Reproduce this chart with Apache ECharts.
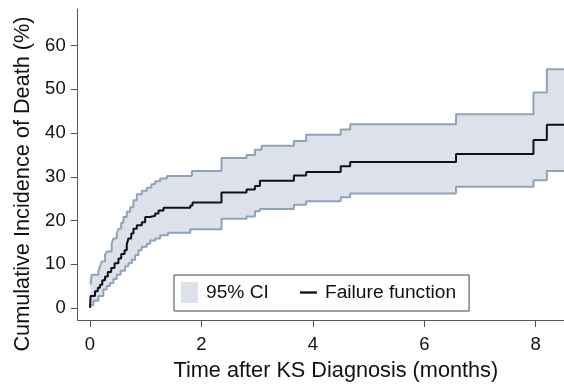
<!DOCTYPE html>
<html>
<head>
<meta charset="utf-8">
<style>
  html, body { margin: 0; padding: 0; background: #fff; }
  #chart { width: 564px; height: 387px; }
</style>
<script src="https://cdn.jsdelivr.net/npm/echarts@6/dist/echarts.min.js"></script>
</head>
<body>
<div id="chart"></div>
<script>
// Cumulative incidence (failure function) after KS diagnosis, with 95% CI.
// Each entry is [months, percent]; the value holds from that time until the next entry.
const failure = [
  [0, 0], [0.01, 2.7], [0.09, 3.8], [0.14, 4.6], [0.18, 5.3], [0.22, 6.3],
  [0.27, 7.2], [0.32, 8.2], [0.38, 9.1], [0.44, 10.2], [0.51, 11.3], [0.56, 12.3],
  [0.62, 13.2], [0.66, 14.5], [0.69, 15.9], [0.74, 17.0], [0.78, 18.1], [0.84, 18.9],
  [0.93, 19.6], [0.99, 20.8], [1.08, 21.1], [1.17, 21.6], [1.23, 22.3], [1.32, 22.9],
  [1.80, 23.4], [1.84, 24.1], [2.36, 26.4], [2.81, 27.1], [2.96, 27.9], [3.05, 29.1],
  [3.66, 30.3], [3.88, 31.1], [4.50, 32.4], [4.67, 33.4], [6.57, 35.2], [7.96, 38.4],
  [8.20, 41.9], [8.51, 41.9]
];

const ciUpper = [
  [0.01, 5.3], [0.03, 7.6], [0.15, 8.3], [0.18, 9.5], [0.21, 10.6], [0.27, 12.1],
  [0.30, 12.9], [0.39, 14.7], [0.42, 15.9], [0.48, 16.9], [0.51, 18.1], [0.56, 19.5],
  [0.60, 20.8], [0.66, 22.0], [0.72, 23.0], [0.78, 24.6], [0.84, 26.0], [0.93, 26.8],
  [1.02, 27.5], [1.10, 28.3], [1.17, 29.0], [1.26, 29.6], [1.38, 30.2], [1.83, 31.3],
  [2.36, 34.3], [2.81, 35.0], [2.96, 36.2], [3.08, 37.1], [3.66, 38.2], [3.88, 39.6],
  [4.50, 40.8], [4.67, 42.0], [6.57, 44.3], [7.96, 49.3], [8.20, 54.6], [8.51, 54.6]
];

const ciLower = [
  [0.01, 0.6], [0.06, 1.6], [0.15, 2.7], [0.24, 4.2], [0.30, 5.0], [0.36, 5.7],
  [0.42, 6.6], [0.48, 7.6], [0.55, 8.5], [0.63, 9.5], [0.69, 10.2], [0.75, 11.0],
  [0.81, 12.1], [0.87, 13.2], [0.93, 14.0], [1.02, 14.7], [1.08, 15.4], [1.17, 15.9],
  [1.26, 16.6], [1.40, 17.2], [1.80, 18.0], [2.36, 20.4], [2.81, 20.9], [2.96, 22.1],
  [3.05, 22.6], [3.66, 23.6], [3.88, 24.4], [4.50, 25.3], [4.67, 26.2], [6.57, 27.7],
  [7.96, 29.2], [8.20, 31.3], [8.51, 31.3]
];

const xTicks = [0, 2, 4, 6, 8];
const yTicks = [0, 10, 20, 30, 40, 50, 60];

const bandColor = '#dde2ea';
const ciLineColor = '#8fa3b8';
const axisColor = '#555';
const textColor = '#111';
const font = '"Liberation Sans", Arial, sans-serif';

// Expand a step function into the corner points of its staircase.
function stairs(points) {
  const out = [];
  for (let i = 0; i < points.length; i++) {
    out.push(points[i]);
    if (i < points.length - 1) out.push([points[i + 1][0], points[i][1]]);
  }
  return out;
}

const chart = echarts.init(document.getElementById('chart'), null, { renderer: 'canvas' });

chart.setOption({
  animation: false,
  backgroundColor: '#fff',
  grid: { left: 77.7, right: 0, top: 9, bottom: 63, containLabel: false },
  xAxis: {
    type: 'value',
    min: -0.221,
    max: 8.508,
    splitLine: { show: false },
    axisLine: { show: true, onZero: false, lineStyle: { color: axisColor, width: 1 } },
    axisTick: { show: true, customValues: xTicks, length: 7, lineStyle: { color: axisColor } },
    axisLabel: { customValues: xTicks, margin: 15, fontSize: 18.5, color: textColor, fontFamily: font },
    name: 'Time after KS Diagnosis (months)',
    nameLocation: 'middle',
    nameGap: 40,
    nameTextStyle: { fontSize: 21.7, color: textColor, fontFamily: font, padding: [0, 0, 0, 30] }
  },
  yAxis: {
    type: 'value',
    min: -2.78,
    max: 68.4,
    splitLine: { show: false },
    axisLine: { show: true, onZero: false, lineStyle: { color: axisColor, width: 1 } },
    axisTick: { show: true, customValues: yTicks, length: 7, lineStyle: { color: axisColor } },
    axisLabel: { customValues: yTicks, margin: 12, fontSize: 18.5, color: textColor, fontFamily: font },
    name: 'Cumulative Incidence of Death (%)',
    nameLocation: 'middle',
    nameGap: 42,
    nameTextStyle: { fontSize: 21.7, color: textColor, fontFamily: font, padding: [0, 39, 0, 0] }
  },
  legend: {
    data: [
      { name: '95% CI', icon: 'rect' },
      { name: 'Failure function', icon: 'path://M0,0H16V2.2H0Z' }
    ],
    left: 174,
    top: 275,
    orient: 'horizontal',
    itemWidth: 17,
    itemHeight: 21,
    itemGap: 31,
    symbolKeepAspect: true,
    padding: [7, 13, 8, 7],
    borderColor: '#444',
    borderWidth: 1,
    backgroundColor: '#fff',
    selectedMode: false,
    textStyle: { fontSize: 19.2, color: textColor, fontFamily: font, padding: [0, 0, 0, 3] }
  },
  series: [
    {
      name: '95% CI',
      type: 'custom',
      z: 1,
      silent: true,
      itemStyle: { color: bandColor },
      data: [[0, 0]],
      renderItem: function (params, api) {
        const top = stairs(ciUpper).map(p => api.coord(p));
        const bottom = stairs(ciLower).reverse().map(p => api.coord(p));
        return {
          type: 'polygon',
          shape: { points: top.concat(bottom) },
          style: { fill: bandColor }
        };
      }
    },
    {
      name: 'CI upper',
      type: 'line',
      z: 2,
      step: 'end',
      symbol: 'none',
      silent: true,
      data: ciUpper,
      lineStyle: { color: ciLineColor, width: 2 }
    },
    {
      name: 'CI lower',
      type: 'line',
      z: 2,
      step: 'end',
      symbol: 'none',
      silent: true,
      data: ciLower,
      lineStyle: { color: ciLineColor, width: 2 }
    },
    {
      name: 'Failure function',
      type: 'line',
      z: 3,
      step: 'end',
      symbol: 'none',
      silent: true,
      data: failure,
      itemStyle: { color: '#111' },
      lineStyle: { color: '#111', width: 2 }
    }
  ]
});
</script>
</body>
</html>
